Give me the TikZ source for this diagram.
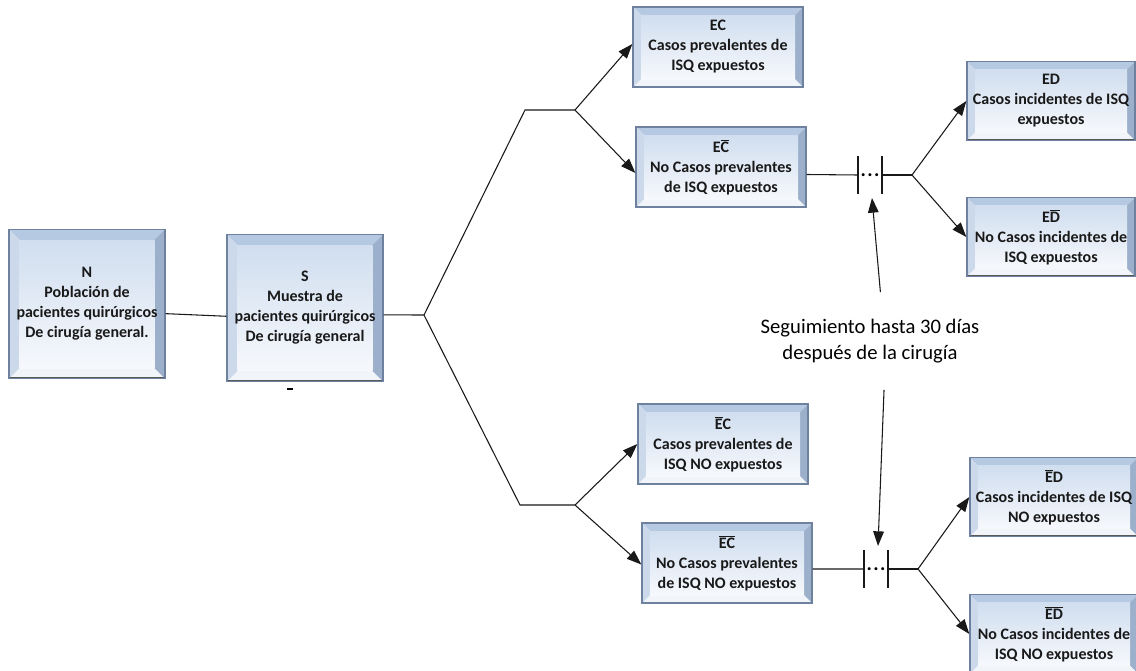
\documentclass[tikz,border=0pt]{standalone}
\usepackage{fontspec}
\setmainfont{Carlito}
\usepackage{tikz}
\usetikzlibrary{arrows.meta,positioning}
\usepackage{xcolor}
\definecolor{bxedge}{RGB}{110,130,160}
\definecolor{bxtop}{RGB}{182,201,226}
\definecolor{bxleft}{RGB}{204,217,235}
\definecolor{bxright}{RGB}{156,176,203}
\definecolor{bxbottom}{RGB}{241,245,250}
\definecolor{bxface}{RGB}{208,222,239}
\definecolor{bxfacelow}{RGB}{246,248,252}
\definecolor{lnk}{RGB}{25,25,25}
\newcommand{\barred}[1]{$\overline{\mbox{#1}}$}
\tikzset{bevw/.store in=\bevw, bevw=6pt}
\tikzstyle{arrow} = [line width=0.8pt,-{Triangle[length=11pt,width=8pt]},color=lnk]
\tikzstyle{link} = [line width=0.8pt,color=lnk]
\tikzstyle{bevel} = [rectangle, draw=bxedge, line width=1pt, inner sep=0pt, align=center,
  font=\bfseries\fontsize{12}{15}\selectfont, text=black!90,
  path picture={
    \path (path picture bounding box.south west) coordinate (bsw)
          (path picture bounding box.north east) coordinate (bne)
          (bsw |- bne) coordinate (bnw) (bne |- bsw) coordinate (bse);
    \fill[bxtop] (bnw) -- (bne) -- ([shift={(-\bevw,-\bevw)}]bne) -- ([shift={(\bevw,-\bevw)}]bnw) -- cycle;
    \fill[bxbottom] (bsw) -- (bse) -- ([shift={(-\bevw,\bevw)}]bse) -- ([shift={(\bevw,\bevw)}]bsw) -- cycle;
    \fill[bxleft] (bsw) -- (bnw) -- ([shift={(\bevw,-\bevw)}]bnw) -- ([shift={(\bevw,\bevw)}]bsw) -- cycle;
    \fill[bxright] (bse) -- (bne) -- ([shift={(-\bevw,-\bevw)}]bne) -- ([shift={(-\bevw,\bevw)}]bse) -- cycle;
    \shade[top color=bxface, bottom color=bxfacelow] ([shift={(\bevw,\bevw)}]bsw) rectangle ([shift={(-\bevw,-\bevw)}]bne);
    \draw[black!65, line width=2pt] (bne) -- (bse) -- (bsw);
  }]
\tikzstyle{casebox} = [bevel, minimum width=127.5pt, minimum height=60pt]
\tikzstyle{pause} = [font=\bfseries\fontsize{15}{15}\selectfont, inner sep=0pt]

\begin{document}
\begin{tikzpicture}[x=0.75pt, y=-0.75pt]
\useasboundingbox (0,0) rectangle (1136,671);

% Population and sample
\node[bevel, bevw=8pt, minimum width=117pt, minimum height=112pt] (pop) at (87,304) {N\\Población de\\pacientes quirúrgicos\\De cirugía general.};
\node[bevel, bevw=8pt, minimum width=117pt, minimum height=110pt] (sample) at (305,308) {S\\Muestra de\\pacientes quirúrgicos\\De cirugía general};
\node[inner sep=0pt] (mark) at (290,389) {\rule{4pt}{1pt}};
\draw[link] (pop.-7) -- (sample.186);

% Prevalent cases
\node[casebox] (ec) at (718,47) {EC\\Casos prevalentes de\\ISQ expuestos};
\node[casebox] (ecn) at (721,167) {E\barred{C}\\No Casos prevalentes\\de ISQ expuestos};
\node[casebox] (nec) at (723,444) {\barred{E}C\\Casos prevalentes de\\ISQ NO expuestos};
\node[casebox] (necn) at (727,563) {\barred{E}\barred{C}\\No Casos prevalentes\\de ISQ NO expuestos};

% Incident cases
\node[casebox, minimum width=126pt, minimum height=59pt] (ed) at (1051,101) {ED\\Casos incidentes de ISQ\\expuestos};
\node[casebox, minimum width=126pt, minimum height=59pt] (edn) at (1051,237) {E\barred{D}\\No Casos incidentes de\\ISQ expuestos};
\node[casebox, minimum width=126pt, minimum height=59pt] (ned) at (1054,497) {\barred{E}D\\Casos incidentes de ISQ\\NO expuestos};
\node[casebox, minimum width=126pt, minimum height=59pt] (nedn) at (1054,634) {\barred{E}\barred{D}\\No Casos incidentes de\\ISQ NO expuestos};

% Branches
\coordinate (split) at (424,315);
\coordinate (topknee) at (525,110);
\coordinate (topfork) at (575,110);
\coordinate (botknee) at (520,505);
\coordinate (botfork) at (575,505);
\draw[link] (sample.-5) -- (split);
\draw[link] (split) -- (topknee) -- (topfork);
\draw[link] (split) -- (botknee) -- (botfork);
\draw[arrow] (topfork) -- (ec.178);
\draw[arrow] (topfork) -- (ecn.184);
\draw[arrow] (botfork) -- (nec.west);
\draw[arrow] (botfork) -- (necn.181);

% Follow-up
\coordinate (gapA) at (870,175);
\coordinate (gapB) at (876,569);
\coordinate (forkA) at (912,175);
\coordinate (forkB) at (918,569);
\node[pause] (dotsA) at (gapA) {.\hspace{1pt}.\hspace{1pt}.};
\node[pause] (dotsB) at (gapB) {.\hspace{1pt}.\hspace{1pt}.};
\draw[link] (ecn.-5) -- ([xshift=-9pt]gapA);
\draw[link] ([xshift=-9pt]gapA) ++(0,-19) -- ++(0,38);
\draw[link] ([xshift=9pt]gapA) ++(0,-19) -- ++(0,38);
\draw[link] ([xshift=9pt]gapA) -- (forkA);
\draw[link] (necn.-4) -- ([xshift=-9pt]gapB);
\draw[link] ([xshift=-9pt]gapB) ++(0,-19) -- ++(0,38);
\draw[link] ([xshift=9pt]gapB) ++(0,-19) -- ++(0,38);
\draw[link] ([xshift=9pt]gapB) -- (forkB);
\draw[arrow] (forkA) -- (ed.west);
\draw[arrow] (forkA) -- (edn.west);
\draw[arrow] (forkB) -- (ned.west);
\draw[arrow] (forkB) -- (nedn.west);

\node[font=\fontsize{15.5}{20}\selectfont, align=center, minimum height=73pt] (follow) at (870,341) {Seguimiento hasta 30 días\\después de la cirugía};
\coordinate (pauseA) at (872,198);
\coordinate (pauseB) at (878,546);
\draw[arrow] (follow.78) -- (pauseA);
\draw[arrow] (follow.-74) -- (pauseB);
\end{tikzpicture}
\end{document}
